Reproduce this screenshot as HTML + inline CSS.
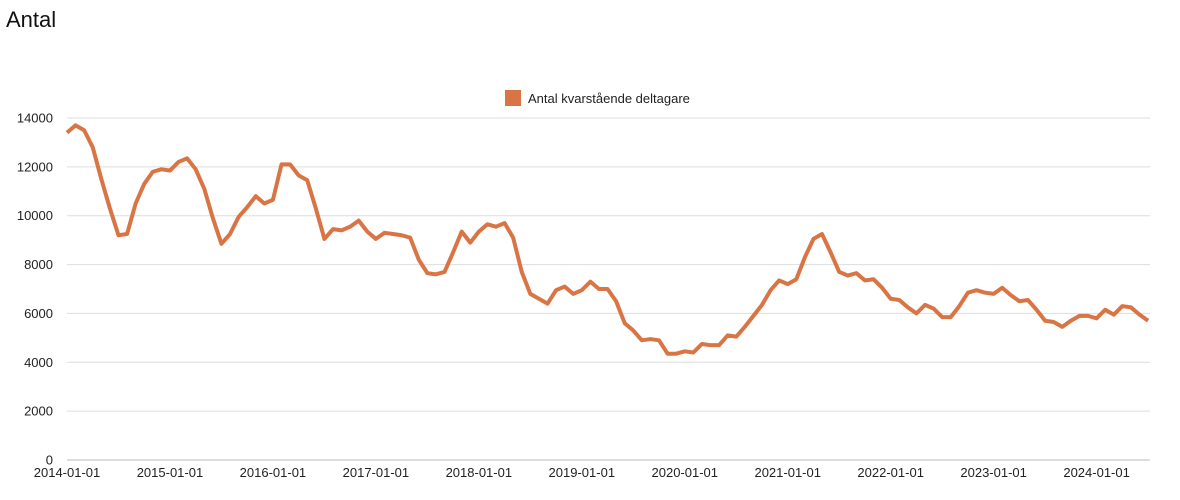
<!DOCTYPE html>
<html><head><meta charset="utf-8"><style>
body{margin:0;background:#fff;font-family:"Liberation Sans",sans-serif;}
#wrap{position:relative;width:1180px;height:500px;overflow:hidden}
</style></head><body>
<div id="wrap">
<svg id="chart" width="1180" height="500">
<text x="6" y="27" font-size="22" fill="#111">Antal</text>
<g>
<rect x="505" y="90" width="16" height="16" fill="#d97544"/>
<text x="528" y="103" font-size="13" fill="#222">Antal kvarstående deltagare</text>
</g>
<g id="grid"></g><g id="yt"></g><g id="xt"></g><g id="series"></g>
</svg>
</div>
<script>
const startYear = 2014;
const xTickLabels = ["2014-01-01","2015-01-01","2016-01-01","2017-01-01","2018-01-01","2019-01-01","2020-01-01","2021-01-01","2022-01-01","2023-01-01","2024-01-01"];
const yTicks = [0,2000,4000,6000,8000,10000,12000,14000];
const values = [
13400,13700,13500,12800,11500,10300,9200,9250,10500,11300,11800,11900,
11850,12200,12350,11900,11100,9900,8850,9250,9950,10350,10800,10500,
10650,12100,12100,11650,11450,10300,9050,9450,9400,9550,9800,9350,
9050,9300,9250,9200,9100,8200,7650,7600,7700,8500,9350,8900,
9350,9650,9550,9700,9100,7700,6800,6600,6400,6950,7100,6800,
6950,7300,7000,7000,6500,5600,5300,4900,4950,4900,4350,4350,
4450,4400,4750,4700,4700,5100,5050,5450,5900,6350,6950,7350,
7200,7400,8300,9050,9250,8500,7700,7550,7650,7350,7400,7050,
6600,6550,6250,6000,6350,6200,5850,5850,6300,6850,6950,6850,
6800,7050,6750,6500,6550,6150,5700,5650,5450,5700,5900,5900,
5800,6150,5950,6300,6250,5950,5700];
const L=67,R=1150,T=118,B=460,monthPx=8.58;
const x=i=>L+i*monthPx;
const y=v=>B-(v/14000)*(B-T);
const NS="http://www.w3.org/2000/svg";
const grid=document.getElementById('grid'),yt=document.getElementById('yt'),xt=document.getElementById('xt'),ser=document.getElementById('series');
yTicks.forEach(v=>{
const l=document.createElementNS(NS,'line');
l.setAttribute('x1',L);l.setAttribute('x2',R);l.setAttribute('y1',y(v));l.setAttribute('y2',y(v));
l.setAttribute('stroke',v===0?'#bbb':'#ddd');l.setAttribute('stroke-width','1');


grid.appendChild(l);
const t=document.createElementNS(NS,'text');
t.setAttribute('x',53);t.setAttribute('y',y(v)+4.5);t.setAttribute('text-anchor','end');t.setAttribute('font-size','13');t.setAttribute('fill','#222');
t.textContent=v;


yt.appendChild(t);
});
xTickLabels.forEach((s,k)=>{
const t=document.createElementNS(NS,'text');
t.setAttribute('x',x(k*12));t.setAttribute('y',477);t.setAttribute('text-anchor','middle');t.setAttribute('font-size','13');t.setAttribute('fill','#222');
t.textContent=s;


xt.appendChild(t);
});
const p=document.createElementNS(NS,'polyline');
p.setAttribute('points',values.map((v,i)=>x(i)+','+y(v)).join(' '));
p.setAttribute('fill','none');p.setAttribute('stroke','#d97544');p.setAttribute('stroke-width','4');p.setAttribute('stroke-linejoin','round');


ser.appendChild(p);
</script>
</body></html>
